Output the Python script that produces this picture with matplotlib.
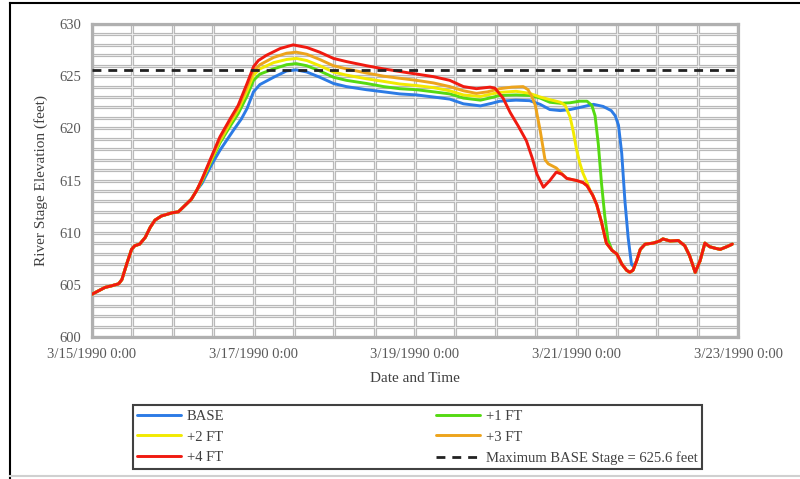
import numpy as np
import pandas as pd
import matplotlib
matplotlib.use("Agg")
import matplotlib.pyplot as plt
import matplotlib.dates as mdates
from matplotlib.lines import Line2D

plt.rcParams["font.family"] = ["Liberation Serif", "DejaVu Serif"]

# ---- data (days after 3/15/1990 0:00, river stage in feet) ----
start = pd.Timestamp("1990-03-15")

early_d = [0, 0.05, 0.16, 0.24, 0.33, 0.37, 0.43, 0.49, 0.53, 0.59, 0.66, 0.72,
           0.78, 0.86, 0.99, 1.07, 1.15, 1.23, 1.30]
early_v = [604.1, 604.3, 604.75, 604.9, 605.1, 605.5, 607.0, 608.4, 608.75, 608.9,
           609.55, 610.5, 611.2, 611.6, 611.9, 612.0, 612.6, 613.2, 614.1]

red_d = [1.36, 1.42, 1.48, 1.585, 1.71, 1.81, 1.92, 2.0, 2.06, 2.16, 2.33, 2.49,
         2.66, 2.82, 2.99, 3.15, 3.40, 3.61, 3.81, 4.02, 4.23, 4.43, 4.60, 4.76,
         4.93, 4.99, 5.09, 5.18, 5.28, 5.38, 5.45, 5.51, 5.59, 5.67, 5.75, 5.82,
         5.88, 6.0, 6.08, 6.13, 6.2, 6.25, 6.31, 6.37, 6.44, 6.50, 6.56, 6.62,
         6.66, 6.70, 6.74, 6.79, 6.85, 6.95, 7.03, 7.07, 7.16, 7.26, 7.34, 7.40,
         7.47, 7.53, 7.59, 7.65, 7.72, 7.78, 7.86, 7.93]
red_v = [615.1, 616.2, 617.3, 619.2, 620.9, 622.2, 624.3, 625.9, 626.5, 627.0, 627.65, 628.0,
         627.75, 627.3, 626.7, 626.4, 626.0, 625.7, 625.45, 625.2, 624.95, 624.6, 624.0, 623.8,
         623.95, 623.85, 622.9, 621.5, 620.2, 618.8, 617.2, 615.6, 614.35, 615.0, 615.8, 615.6,
         615.2, 615.0, 614.8, 614.5, 613.6, 612.7, 611.0, 609.0, 608.3, 607.95, 607.0, 606.4,
         606.2, 606.4, 607.2, 608.4, 608.9, 609.0, 609.2, 609.4, 609.2, 609.25, 608.75, 607.8,
         606.2, 607.3, 609.0, 608.65, 608.5, 608.4, 608.65, 608.9]

base_d = [1.36, 1.40, 1.48, 1.585, 1.75, 1.85, 1.92, 2.0, 2.08, 2.25, 2.41, 2.53,
          2.66, 2.82, 2.99, 3.15, 3.40, 3.61, 3.81, 4.02, 4.23, 4.43, 4.60, 4.81,
          4.95, 5.05, 5.25, 5.42, 5.55, 5.67, 5.80, 5.92, 6.04, 6.21, 6.33, 6.43,
          6.48, 6.52, 6.56, 6.60, 6.64, 6.68, 6.70]
base_v = [614.7, 615.3, 616.5, 617.9, 619.8, 620.9, 621.9, 623.5, 624.2, 624.9, 625.5, 625.6,
          625.4, 624.9, 624.3, 624.0, 623.7, 623.5, 623.3, 623.2, 623.0, 622.8, 622.35, 622.15,
          622.4, 622.6, 622.7, 622.65, 622.3, 621.8, 621.7, 621.8, 622.0, 622.3, 622.1, 621.7,
          621.2, 620.3, 617.6, 613.0, 609.5, 607.0, 606.8]

ft1_d = [1.36, 1.42, 1.48, 1.585, 1.71, 1.81, 1.92, 2.0, 2.08, 2.25, 2.41, 2.53,
         2.66, 2.82, 2.99, 3.15, 3.40, 3.61, 3.81, 4.02, 4.23, 4.43, 4.60, 4.81,
         4.95, 5.05, 5.25, 5.42, 5.55, 5.67, 5.80, 5.92, 6.04, 6.13, 6.19, 6.23,
         6.27, 6.31, 6.35, 6.39, 6.44]
ft1_v = [614.9, 615.9, 616.9, 618.6, 620.2, 621.4, 623.1, 624.6, 625.2, 625.7, 626.1, 626.2,
         626.0, 625.5, 624.9, 624.6, 624.3, 624.0, 623.8, 623.7, 623.5, 623.3, 622.9, 622.7,
         622.95, 623.15, 623.2, 623.15, 622.9, 622.5, 622.4, 622.45, 622.6, 622.6, 622.2, 621.2,
         618.5, 614.7, 611.6, 609.3, 608.3]

ft2_d = [1.36, 1.42, 1.48, 1.585, 1.71, 1.81, 1.92, 2.0, 2.08, 2.25, 2.41, 2.53,
         2.66, 2.82, 2.99, 3.15, 3.40, 3.61, 3.81, 4.02, 4.23, 4.43, 4.60, 4.81,
         4.95, 5.05, 5.25, 5.42, 5.55, 5.67, 5.80, 5.86, 5.92, 5.96, 6.0, 6.04,
         6.08, 6.13, 6.17]
ft2_v = [615.0, 616.0, 617.05, 618.8, 620.5, 621.8, 623.6, 625.1, 625.7, 626.3, 626.6, 626.7,
         626.5, 626.0, 625.4, 625.1, 624.75, 624.5, 624.25, 624.1, 623.9, 623.6, 623.2, 623.05,
         623.3, 623.45, 623.55, 623.35, 623.0, 622.75, 622.5, 622.2, 621.1, 619.7, 618.0, 616.7,
         615.7, 614.8, 614.0]

ft3_d = [1.36, 1.42, 1.48, 1.585, 1.71, 1.81, 1.92, 2.0, 2.08, 2.25, 2.41, 2.53,
         2.66, 2.82, 2.99, 3.15, 3.40, 3.61, 3.81, 4.02, 4.23, 4.43, 4.60, 4.76,
         4.90, 5.05, 5.20, 5.34, 5.40, 5.45, 5.49, 5.55, 5.61, 5.65, 5.70, 5.75,
         5.80, 5.84]
ft3_v = [615.05, 616.1, 617.15, 619.0, 620.7, 622.0, 624.0, 625.5, 626.1, 626.8, 627.2, 627.3,
         627.1, 626.6, 626.0, 625.7, 625.3, 625.0, 624.8, 624.6, 624.35, 624.0, 623.6, 623.35,
         623.5, 623.8, 623.95, 624.0, 623.7, 623.0, 622.2, 619.8, 617.0, 616.6, 616.4, 616.2,
         615.8, 615.5]

max_base = 625.6
x_tick_days = ["1990-03-15", "1990-03-17", "1990-03-19", "1990-03-21", "1990-03-23"]


def build(own_d, own_v):
    # early rising limb is shared; after joining the +4 FT curve the lines coincide
    d = list(early_d) + list(own_d)
    v = list(early_v) + list(own_v)
    if own_d is not red_d:
        for dd, vv in zip(red_d, red_v):
            if dd > own_d[-1]:
                d.append(dd)
                v.append(vv)
    t = start + pd.to_timedelta(np.array(d), unit="D")
    return t, np.array(v)


series = [
    ("BASE", base_d, base_v, "#2C7BE5"),
    ("+1 FT", ft1_d, ft1_v, "#55DA12"),
    ("+2 FT", ft2_d, ft2_v, "#F2EA00"),
    ("+3 FT", ft3_d, ft3_v, "#EDA41C"),
    ("+4 FT", red_d, red_v, "#F01A10"),
]

fig = plt.figure(figsize=(8, 4.79), dpi=100)
ax = fig.add_axes([92 / 800, 1 - 337 / 479, (738 - 92) / 800, (337 - 24) / 479])

handles = {}
for name, d, v, c in series:
    t, y = build(d, v)
    (h,) = ax.plot(t, y, color=c, lw=2.1, solid_capstyle="round",
                   solid_joinstyle="round", zorder=3)
    handles[name] = h

hd = ax.axhline(max_base, color="#222222", lw=2.0, dashes=(3.2, 2.5), zorder=4)

x0 = pd.Timestamp(x_tick_days[0])
x1 = pd.Timestamp(x_tick_days[-1])
ax.set_xlim(x0, x1)
ax.set_ylim(600, 630)

ax.set_xticks([pd.Timestamp(s) for s in x_tick_days])
ax.xaxis.set_minor_locator(mdates.HourLocator(byhour=[0, 12]))
ax.set_yticks(np.arange(600, 631, 5))
ax.yaxis.set_minor_locator(plt.MultipleLocator(1))


def fmt_date(x, pos):
    d = mdates.num2date(x)
    return f"{d.month}/{d.day}/{d.year} {d.hour}:{d.minute:02d}"


ax.xaxis.set_major_formatter(plt.FuncFormatter(fmt_date))

# double-looking gray grid
ax.grid(True, which="both", color="#b9b9b9", lw=2.3, zorder=0)
ax.set_axisbelow(True)
for yy in np.arange(601, 630, 1):
    ax.axhline(yy, color="#f2f2f2", lw=0.6, zorder=1)
for xx in pd.date_range(x0, x1, freq="12h")[1:-1]:
    ax.axvline(xx, color="#f2f2f2", lw=0.6, zorder=1)

for s in ax.spines.values():
    s.set_color("#b0b0b0")
    s.set_linewidth(2.3)

ax.tick_params(which="both", length=0, colors="#595959", labelsize=10.5)
ax.tick_params(axis="x", pad=8)
ax.tick_params(axis="y", pad=8)

ax.set_xlabel("Date and Time", fontsize=11, color="#404040", labelpad=8)
ax.set_ylabel("River Stage Elevation (feet)", fontsize=11, color="#404040", labelpad=8)

order = ["BASE", "+2 FT", "+4 FT", "+1 FT", "+3 FT"]
leg_h = [handles[n] for n in order] + [hd]
leg_l = order + [f"Maximum BASE Stage = {max_base} feet"]
leg = fig.legend(leg_h, leg_l, ncol=2, loc="lower left", mode="expand",
                 bbox_to_anchor=(133 / 800, 1 - 469 / 479, (702 - 133) / 800, (469 - 405) / 479),
                 borderaxespad=0, frameon=True, fancybox=False, edgecolor="#111111",
                 fontsize=10.5, handlelength=3.0, handletextpad=0.4, labelspacing=0.5,
                 borderpad=0.3, labelcolor="#404040")
leg.get_frame().set_linewidth(1.5)

# outer frame of the picture
fig.add_artist(Line2D([10 / 800, 10 / 800], [0, 1 - 3 / 479], color="black", lw=1.5,
                      transform=fig.transFigure))
fig.add_artist(Line2D([10 / 800, 1], [1 - 3 / 479, 1 - 3 / 479], color="black", lw=1.5,
                      transform=fig.transFigure))
fig.add_artist(Line2D([10 / 800, 1], [1 - 476 / 479, 1 - 476 / 479], color="#d0d0d0", lw=1.5,
                      transform=fig.transFigure))

fig.savefig("out.png", dpi=100)
